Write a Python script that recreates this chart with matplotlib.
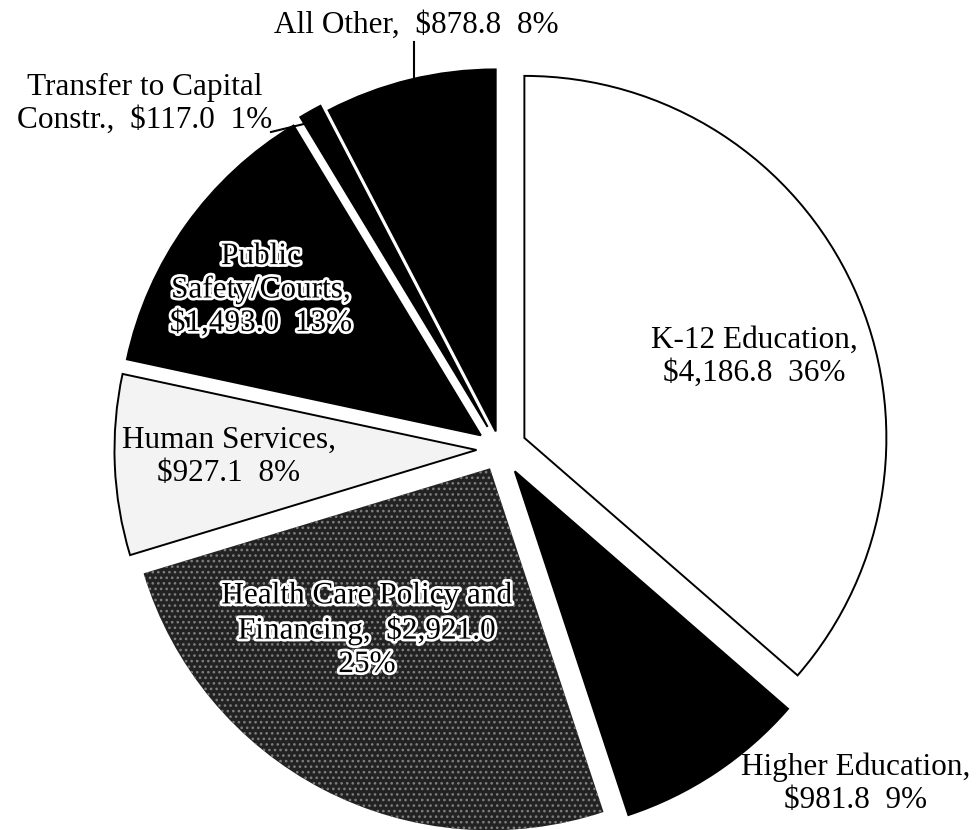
import numpy as np
import matplotlib
matplotlib.use('Agg')
import matplotlib.pyplot as plt
import matplotlib.patheffects as pe

plt.rcParams['font.family'] = ['Liberation Serif', 'DejaVu Serif']
plt.rcParams['hatch.linewidth'] = 1.1

# General Fund appropriations, $ millions
categories = ['K-12 Education', 'Higher Education', 'Health Care Policy and Financing',
              'Human Services', 'Public Safety/Courts', 'Transfer to Capital Constr.', 'All Other']
amounts = [4186.8, 981.8, 2921.0, 927.1, 1493.0, 117.0, 878.8]
percents = [36, 9, 25, 8, 13, 1, 8]
label_texts = [
    'K-12 Education,\n$4,186.8  36%',
    'Higher Education,\n$981.8  9%',
    'Health Care Policy and\nFinancing,  $2,921.0\n25%',
    'Human Services,\n$927.1  8%',
    'Public\nSafety/Courts,\n$1,493.0  13%',
    'Transfer to Capital\nConstr.,  $117.0  1%',
    'All Other,  $878.8  8%',
]

# styling
face = ['white', 'black', '#222222', '#f3f3f3', 'black', 'black', 'black']
edge = ['black', 'black', '#7e7e7e', 'black', 'black', 'black', 'black']
hatches = [None, None, '...', None, None, None, None]
explode = [0.074, 0.074, 0.06, 0.065, 0.065, 0.07, 0.05]
outlined = [False, False, True, False, True, False, False]
# label centres in pixel coords of the 977x830 figure
label_px = [(754, 357), (856, 784), (367, 630), (229, 457), (261, 290), (145, 104), (416, 25)]

W, H = 977, 830
fig = plt.figure(figsize=(W / 100, H / 100), dpi=100)
ax = fig.add_axes([0, 0, 1, 1])

wedges, _ = ax.pie(amounts, explode=explode, colors=face, startangle=90, counterclock=False,
                   wedgeprops=dict(linewidth=1.4))
for w, ec, h in zip(wedges, edge, hatches):
    w.set_edgecolor(ec)
    if h:
        w.set_hatch(h)
        w.set_linewidth(0)

cx, cy, r = 500, 449, 362
ax.set_aspect('auto')
ax.set_xlim(-cx / r, (W - cx) / r)
ax.set_ylim(-(H - cy) / r, cy / r)
ax.axis('off')

for txt, (px, py), ol in zip(label_texts, label_px, outlined):
    kw = {}
    if ol:
        kw['path_effects'] = [pe.withStroke(linewidth=4, foreground='white')]
    fig.text(px / W, 1 - py / H, txt, ha='center', va='center', fontsize=22.5,
             color='black', linespacing=1.2, **kw)

# leader lines
fig.add_artist(plt.Line2D([414 / W, 414 / W], [1 - 42 / H, 1 - 77 / H], color='black', lw=1.5))
fig.add_artist(plt.Line2D([271 / W, 312 / W], [1 - 132 / H, 1 - 122 / H], color='black', lw=1.5))

fig.savefig('out.png', dpi=100)
